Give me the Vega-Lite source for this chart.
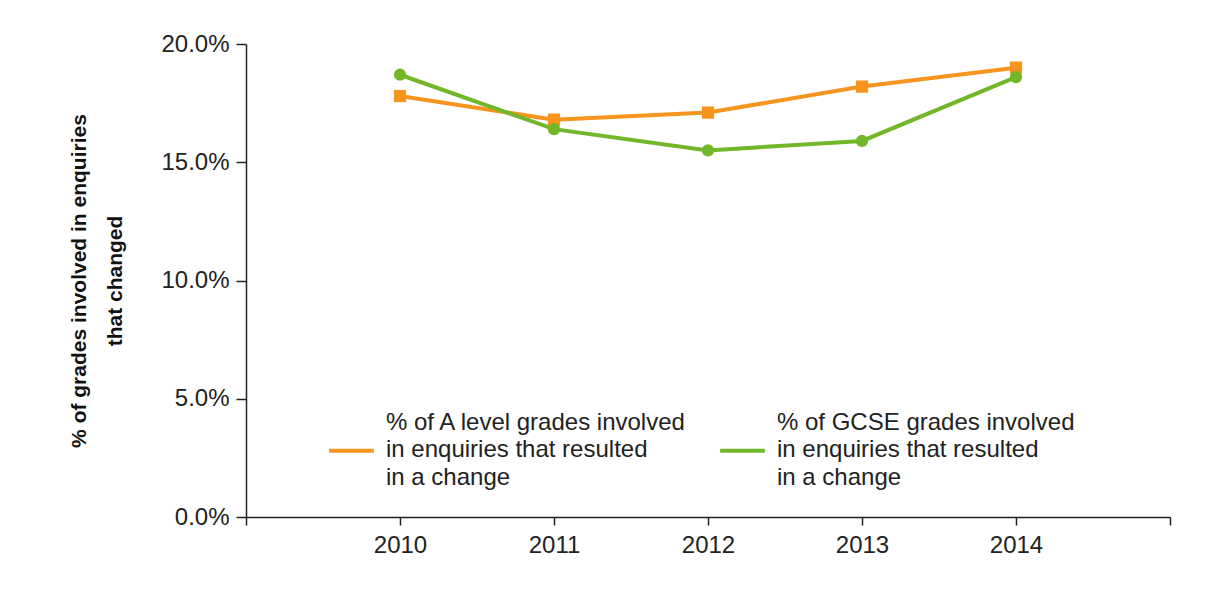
{
  "$schema": "https://vega.github.io/schema/vega-lite/v6.json",
  "width": 924,
  "height": 473,
  "autosize": {"type": "none"},
  "padding": {"left": 246, "top": 44, "right": 43, "bottom": 72},
  "background": "white",
  "config": {
    "view": {"stroke": null},
    "font": "Liberation Sans",
    "axis": {"domainColor": "#222", "tickColor": "#222", "domainWidth": 1.5, "tickWidth": 1.5, "labelFont": "Liberation Sans", "labelColor": "#222", "labelFontSize": 24, "grid": false}
  },
  "data": {
    "values": [
      {"year": 2010, "series": "A", "value": 0.178},
      {"year": 2011, "series": "A", "value": 0.168},
      {"year": 2012, "series": "A", "value": 0.171},
      {"year": 2013, "series": "A", "value": 0.182},
      {"year": 2014, "series": "A", "value": 0.190},
      {"year": 2010, "series": "G", "value": 0.187},
      {"year": 2011, "series": "G", "value": 0.164},
      {"year": 2012, "series": "G", "value": 0.155},
      {"year": 2013, "series": "G", "value": 0.159},
      {"year": 2014, "series": "G", "value": 0.186}
    ]
  },
  "encoding": {
    "x": {
      "field": "year", "type": "quantitative",
      "scale": {"domain": [2009, 2015], "nice": false, "zero": false},
      "axis": {"title": null, "values": [2009, 2010, 2011, 2012, 2013, 2014, 2015], "format": "d", "labelExpr": "datum.value == 2009 || datum.value == 2015 ? '' : datum.label", "tickSize": 8, "labelPadding": 8}
    },
    "y": {
      "field": "value", "type": "quantitative",
      "scale": {"domain": [0, 0.2], "nice": false},
      "axis": {"values": [0, 0.05, 0.1, 0.15, 0.2], "format": ".1%", "tickSize": 10, "labelPadding": 7,
        "title": ["% of grades involved in enquiries", "that changed"], "titleFont": "Liberation Sans", "titleFontSize": 21, "titleFontWeight": "bold", "titleColor": "#111", "titleLineHeight": 36, "titlePadding": 35}
    },
    "color": {
      "field": "series", "type": "nominal",
      "scale": {"domain": ["A", "G"], "range": ["#F7941D", "#72B62A"]},
      "legend": {
        "title": null, "orient": "none", "legendX": 81, "legendY": 354, "direction": "horizontal",
        "labelExpr": "datum.value == 'A' ? ['% of A level grades involved', 'in enquiries that resulted', 'in a change'] : ['% of GCSE grades involved', 'in enquiries that resulted', 'in a change']",
        "labelFont": "Liberation Sans", "labelFontSize": 24, "labelColor": "#222", "labelLimit": 400, "labelOffset": 10,
        "symbolType": "M-1,1.25H1", "symbolStrokeWidth": 4, "symbolSize": 2000, "columnPadding": 24, "labelBaseline": "middle",
        "encode": {"labels": {"update": {"lineHeight": {"value": 27.5}}}}
      }
    }
  },
  "layer": [
    {"mark": {"type": "line", "strokeWidth": 4}},
    {"transform": [{"filter": "datum.series == 'A'"}], "mark": {"type": "point", "shape": "square", "filled": true, "opacity": 1, "size": 150}},
    {"transform": [{"filter": "datum.series == 'G'"}], "mark": {"type": "point", "shape": "circle", "filled": true, "opacity": 1, "size": 150}}
  ]
}
